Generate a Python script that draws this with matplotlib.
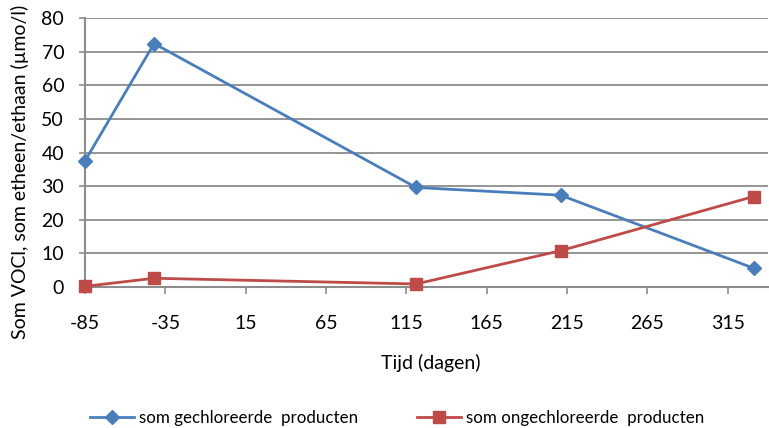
import matplotlib
matplotlib.use("Agg")
import matplotlib.pyplot as plt
from matplotlib.lines import Line2D

days = [-85, -42, 121, 211, 331]
gechloreerd = [37.5, 72.4, 29.6, 27.3, 5.6]
ongechloreerd = [0.2, 2.6, 0.9, 10.8, 26.9]
xticks = [-85, -35, 15, 65, 115, 165, 215, 265, 315]
yticks = [0, 10, 20, 30, 40, 50, 60, 70, 80]

blue = "#4A7EBB"
red = "#BE4B48"
grid = "#8C8C8C"

plt.rcParams['font.family'] = ['Lato', 'DejaVu Sans']
plt.rcParams['axes.unicode_minus'] = False

fig = plt.figure(figsize=(7.69, 4.28), dpi=100)
ax = fig.add_axes([85/769, 1-287/428, (768-85)/769, (287-18)/428])

ax.plot(days, gechloreerd, color=blue, lw=2.0, marker='D', ms=7, mec=blue, mfc=blue, clip_on=False, zorder=3)
ax.plot(days, ongechloreerd, color=red, lw=2.0, marker='s', ms=9, mec=red, mfc=red, clip_on=False, zorder=3)

ax.set_xlim(-85, 340)
ax.set_ylim(0, 80)
ax.set_xticks(xticks)
ax.set_yticks(yticks)
ax.tick_params(axis='both', labelsize=14, colors='black', color=grid, width=1.2)
ax.tick_params(axis='x', length=5, direction='out', pad=15)
ax.tick_params(axis='y', length=4, direction='out', pad=11)
ax.yaxis.grid(True, color=grid, lw=1.3)
ax.set_axisbelow(True)
for s in ['top', 'right']:
    ax.spines[s].set_visible(False)
for s in ['left', 'bottom']:
    ax.spines[s].set_color(grid)
    ax.spines[s].set_linewidth(1.5)

fig.text(431/769, 1-363/428, "Tijd (dagen)", fontsize=14, ha='center', va='center')
fig.text(20/769, 1-172/428, "Som VOCl, som etheen/ethaan (µmo/l)", fontsize=14,
         ha='center', va='center', rotation=90)

handles = [Line2D([], [], color=blue, lw=2.0, marker='D', ms=7),
           Line2D([], [], color=red, lw=2.0, marker='s', ms=9)]
fig.legend(handles, ["som gechloreerde  producten", "som ongechloreerde  producten"],
           loc='center', bbox_to_anchor=(397/769, 1-418/428), ncol=2, frameon=False,
           fontsize=12.2, handlelength=2.6, handletextpad=0.3, columnspacing=3.5)

fig.savefig("out.png", dpi=100)
